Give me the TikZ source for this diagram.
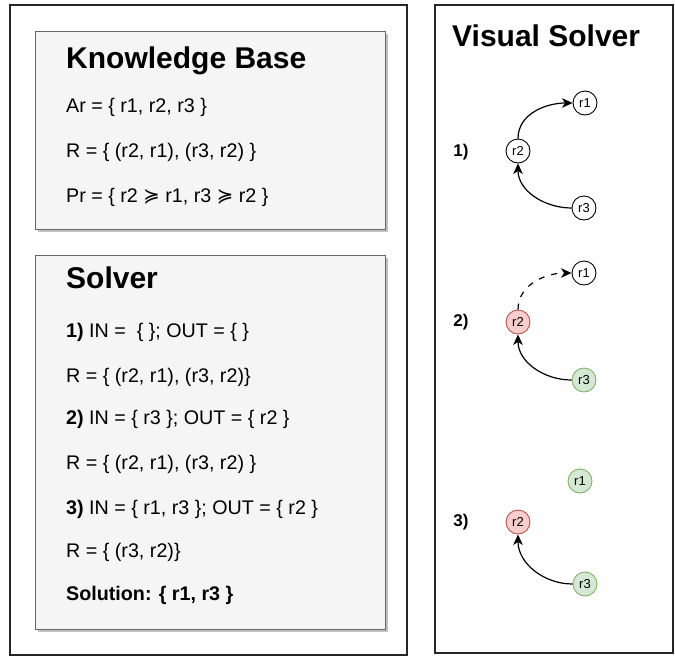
\documentclass[tikz,border=0pt]{standalone}
\usepackage{fontspec}
\setmainfont{Liberation Sans}
\newfontfamily\symfont{DejaVu Sans}
\usetikzlibrary{arrows.meta}
\definecolor{boxfill}{HTML}{F5F5F5}
\definecolor{boxline}{HTML}{666666}
\definecolor{shadowc}{HTML}{BFBFBF}
\definecolor{redfill}{HTML}{F8CECC}
\definecolor{redline}{HTML}{B85450}
\definecolor{greenfill}{HTML}{D5E8D4}
\definecolor{greenline}{HTML}{82B366}
\newcommand{\pref}{{\symfont ≽}}
\begin{document}
\begin{tikzpicture}[x=1pt,y=-1pt,
  panel/.style={draw=black!85, line width=1.3pt},
  card/.style={draw=boxline, fill=boxfill, line width=1pt},
  cardshadow/.style={fill=shadowc},
  title/.style={anchor=base west, inner sep=0pt, font=\fontsize{30}{35}\selectfont\bfseries},
  body/.style={anchor=base west, inner sep=0pt, font=\fontsize{19.7}{23}\selectfont},
  steplabel/.style={inner sep=0pt, font=\fontsize{17}{20}\selectfont\bfseries},
  arg/.style={circle, draw=black, fill=white, line width=0.9pt, minimum size=24pt, inner sep=0pt, font=\fontsize{13}{15}\selectfont},
  outarg/.style={arg, draw=redline, fill=redfill},
  inarg/.style={arg, draw=greenline, fill=greenfill},
  att/.style={-{Stealth[length=10.5pt,width=9.5pt,inset=3pt]}, line width=1.2pt},
  dashatt/.style={att, dash pattern=on 6pt off 7pt}
]
\useasboundingbox (0,0) rectangle (675,656);

% left panel
\draw[panel] (10,5) rectangle (407,655);
% knowledge base card
\fill[cardshadow] (38,34) rectangle (388,232);
\draw[card] (35,31) rectangle (385,229);
\node[title] (kbt) at (66,68.5) {Knowledge Base};
\node[body] (kb1) at (66,112) {Ar = \{ r1, r2, r3 \}};
\node[body] (kb2) at (66,157) {R = \{ (r2, r1), (r3, r2) \}};
\node[body] (kb3) at (66,202) {Pr = \{ r2 \pref{} r1, r3 \pref{} r2 \}};

% solver card
\fill[cardshadow] (38,258) rectangle (388,632);
\draw[card] (35,255) rectangle (385,629);
\node[title] (st) at (66,288.5) {Solver};
\node[body] (s1) at (66,337) {\textbf{1)} IN = \ \{ \}; OUT = \{ \}};
\node[body] (s2) at (66,382) {R = \{ (r2, r1), (r3, r2)\}};
\node[body] (s3) at (66,424) {\textbf{2)} IN = \{ r3 \}; OUT = \{ r2 \}};
\node[body] (s4) at (66,469) {R = \{ (r2, r1), (r3, r2) \}};
\node[body] (s5) at (66,514) {\textbf{3)} IN = \{ r1, r3 \}; OUT = \{ r2 \}};
\node[body] (s6) at (66,557) {R = \{ (r3, r2)\}};
\node[body] (s7) at (66,600) {\textbf{Solution: \{ r1, r3 \}}};

% right panel
\draw[panel] (435,5) rectangle (673,653);
\node[title] (vt) at (452,46) {Visual Solver};

% step 1
\node[steplabel] (l1) at (461,152) {1)};
\node[arg] (a1) at (585,103) {r1};
\node[arg] (a2) at (518,151) {r2};
\node[arg] (a3) at (584,208) {r3};
\draw[att] (a2.north) to[out=90,in=180] (a1.west);
\draw[att] (a3.west) to[out=180,in=-90] (a2.south);

% step 2
\node[steplabel] (l2) at (461,322) {2)};
\node[arg] (b1) at (584,273) {r1};
\node[outarg] (b2) at (518,322) {r2};
\node[inarg] (b3) at (584,380) {r3};
\draw[dashatt] (b2.north) to[out=90,in=180] (b1.west);
\draw[att] (b3.west) to[out=180,in=-90] (b2.south);

% step 3
\node[steplabel] (l3) at (461,522) {3)};
\node[inarg] (c1) at (580,481) {r1};
\node[outarg] (c2) at (518,522) {r2};
\node[inarg] (c3) at (585,584) {r3};
\draw[att] (c3.west) to[out=180,in=-90] (c2.south);
\end{tikzpicture}
\end{document}
